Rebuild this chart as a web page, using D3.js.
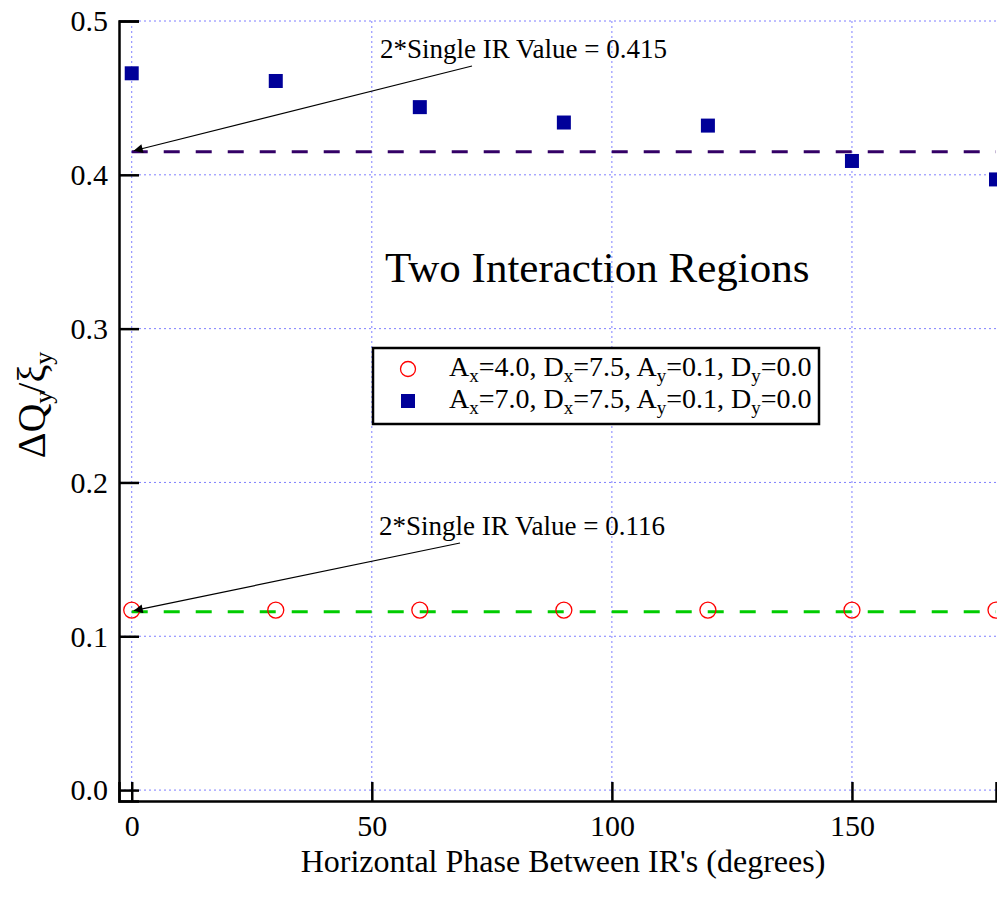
<!DOCTYPE html>
<html>
<head>
<meta charset="utf-8">
<script src="https://cdn.jsdelivr.net/npm/d3@7"></script>
<style>
	body { margin: 0; background: #fff; }
	text { font-family: "Liberation Serif", "Times New Roman", serif; fill: #000; }
</style>
</head>
<body>
<svg id="mainsvg" width="997" height="900"></svg>
<script>
// data
var phases = [0, 30, 60, 90, 120, 150, 180];
var seriesA = [0.117, 0.117, 0.117, 0.117, 0.117, 0.117, 0.117]; // Ax=4.0
var seriesB = [0.466, 0.461, 0.444, 0.434, 0.432, 0.409, 0.397]; // Ax=7.0
var singleIR = [0.415, 0.116];
var xTicks = [0, 50, 100, 150];
var yTicks = [0.0, 0.1, 0.2, 0.3, 0.4, 0.5];

var svg = d3.select("#mainsvg");
var x = d3.scaleLinear().domain([-2.65, 180]).range([119, 996]);
var y = d3.scaleLinear().domain([-0.0071, 0.5]).range([801, 21]);

// grid
var grid = svg.append("g").attr("class", "grid")
	.attr("stroke", "#7f7fff").attr("stroke-width", 1).attr("stroke-dasharray", "2,3");
grid.selectAll("line.gx")
	.data(xTicks)
	.enter().append("line")
	.attr("x1", function(d) { return x(d); })
	.attr("x2", function(d) { return x(d); })
	.attr("y1", y.range()[1])
	.attr("y2", y.range()[0]);
grid.selectAll("line.gy")
	.data(yTicks)
	.enter().append("line")
	.attr("x1", x.range()[0])
	.attr("x2", x.range()[1])
	.attr("y1", function(d) { return y(d); })
	.attr("y2", function(d) { return y(d); });

// axes, ticks pointing inside
var yAxis = svg.append("g")
	.attr("transform", "translate(" + x.range()[0] + ",0)")
	.call(d3.axisLeft(y).tickValues(yTicks).tickSize(-20).tickPadding(11).tickFormat(d3.format(".1f")));
var xAxis = svg.append("g")
	.attr("transform", "translate(0," + y.range()[0] + ")")
	.call(d3.axisBottom(x).tickValues(xTicks).tickSize(-19).tickPadding(15));
[xAxis, yAxis].forEach(function(a) {
	a.attr("font-family", "Liberation Serif, serif").attr("font-size", 30);
	a.select(".domain").attr("stroke-width", 2.5);
	a.selectAll(".tick line").attr("stroke-width", 2.5);
	a.selectAll(".tick text").style("font-size", "30px");
});
yAxis.selectAll(".tick text").attr("dy", "0.33em");
xAxis.selectAll(".tick text").attr("dy", "0.66em");

// reference dashed lines
var refColors = ["#330066", "#00cc00"];
svg.append("g").selectAll("line")
	.data(singleIR)
	.enter().append("line")
	.attr("x1", x(0))
	.attr("x2", x(180))
	.attr("y1", function(d) { return y(d); })
	.attr("y2", function(d) { return y(d); })
	.attr("stroke", function(d, i) { return refColors[i]; })
	.attr("stroke-width", 3)
	.attr("stroke-dasharray", "16,16");

// series
svg.append("g").selectAll("circle")
	.data(phases)
	.enter().append("circle")
	.attr("cx", function(d) { return x(d); })
	.attr("cy", function(d, i) { return y(seriesA[i]); })
	.attr("r", 8)
	.attr("fill", "none")
	.attr("stroke", "#ff0000")
	.attr("stroke-width", 1.3);

var sq = 14;
svg.append("g").selectAll("rect")
	.data(phases)
	.enter().append("rect")
	.attr("x", function(d) { return x(d) - sq / 2; })
	.attr("y", function(d, i) { return y(seriesB[i]) - sq / 2; })
	.attr("width", sq)
	.attr("height", sq)
	.attr("fill", "#000099");

// annotations with arrows
var defs = svg.append("defs");
defs.append("marker")
	.attr("id", "arrow")
	.attr("viewBox", "0 0 10 10")
	.attr("refX", 10).attr("refY", 5)
	.attr("markerWidth", 14).attr("markerHeight", 9)
	.attr("markerUnits", "userSpaceOnUse")
	.attr("orient", "auto")
	.append("path").attr("d", "M0,0 L10,5 L0,10 z").attr("fill", "#000");

var notes = [
	{ v: singleIR[0], tx: 380, ty: 58, ax: 472, ay: 66 },
	{ v: singleIR[1], tx: 379, ty: 535, ax: 460, ay: 543 }
];
notes.forEach(function(n) {
	svg.append("line")
		.attr("x1", n.ax).attr("y1", n.ay)
		.attr("x2", x(0) + 2).attr("y2", y(n.v) - 1)
		.attr("stroke", "#000").attr("stroke-width", 1.2)
		.attr("marker-end", "url(#arrow)");
	svg.append("text")
		.attr("x", n.tx).attr("y", n.ty)
		.style("font-size", "27px")
		.text("2*Single IR Value = " + n.v.toFixed(3));
});

svg.append("text")
	.attr("x", 385).attr("y", 282)
	.style("font-size", "43px")
	.text("Two Interaction Regions");

// legend
var legend = svg.append("g");
legend.append("rect")
	.attr("x", 373).attr("y", 348)
	.attr("width", 446).attr("height", 76)
	.attr("fill", "#fff").attr("stroke", "#000").attr("stroke-width", 2.5);
var legendLabels = [["4.0", "7.5", "0.1", "0.0"], ["7.0", "7.5", "0.1", "0.0"]];
legendLabels.forEach(function(l, i) {
	var cy = 369 + i * 32;
	if (i === 0) {
		legend.append("circle").attr("cx", 408).attr("cy", cy).attr("r", 7.5)
			.attr("fill", "none").attr("stroke", "#ff0000").attr("stroke-width", 1.3);
	} else {
		legend.append("rect").attr("x", 408 - 7).attr("y", cy - 7).attr("width", 14).attr("height", 14)
			.attr("fill", "#000099");
	}
	var t = legend.append("text").attr("x", 449).attr("y", cy + 7).style("font-size", "28px");
	var names = ["A", "D", "A", "D"];
	var subs = ["x", "x", "y", "y"];
	names.forEach(function(nm, k) {
		t.append("tspan").text(nm);
		t.append("tspan").attr("dy", 6).style("font-size", "19px").text(subs[k]);
		t.append("tspan").attr("dy", -6).text("=" + l[k] + (k < 3 ? ", " : ""));
	});
});

// axis titles
svg.append("text")
	.attr("x", 563).attr("y", 872)
	.attr("text-anchor", "middle")
	.style("font-size", "32px")
	.text("Horizontal Phase Between IR's (degrees)");

var yl = svg.append("text")
	.attr("transform", "translate(45,405) rotate(-90)")
	.attr("text-anchor", "middle")
	.style("font-size", "40px");
yl.append("tspan").text("ΔQ");
yl.append("tspan").attr("dy", 7).style("font-size", "26px").text("y");
yl.append("tspan").attr("dy", -7).attr("dx", -3).text("/ξ");
yl.append("tspan").attr("dy", 7).style("font-size", "26px").text("y");
</script>
</body>
</html>
